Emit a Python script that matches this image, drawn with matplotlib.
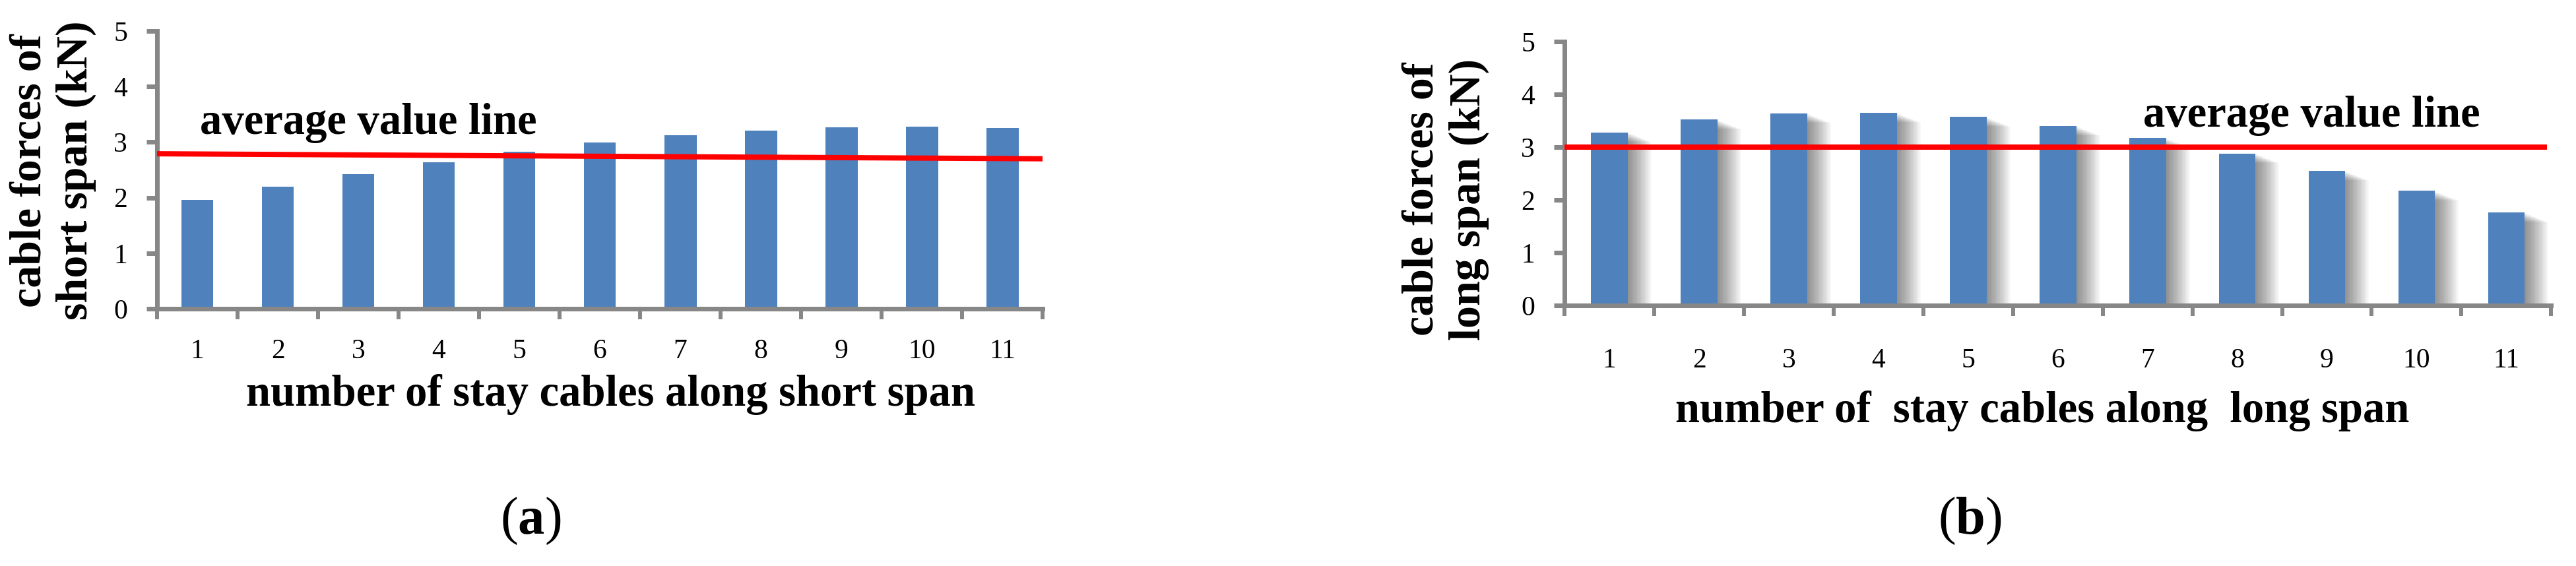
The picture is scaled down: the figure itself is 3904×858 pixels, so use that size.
import matplotlib
matplotlib.use("Agg")
import matplotlib.pyplot as plt
import matplotlib.patheffects as pe
import numpy as np

plt.rcParams['font.family'] = ['Liberation Serif', 'DejaVu Serif']
plt.rcParams['mathtext.fontset'] = 'custom'
plt.rcParams['mathtext.rm'] = 'Liberation Serif'
plt.rcParams['mathtext.bf'] = 'Liberation Serif:bold'

# data
cables = [1, 2, 3, 4, 5, 6, 7, 8, 9, 10, 11]
short_span = [1.96, 2.20, 2.42, 2.64, 2.83, 2.99, 3.12, 3.21, 3.27, 3.28, 3.25]
long_span = [3.28, 3.52, 3.64, 3.65, 3.57, 3.40, 3.17, 2.88, 2.55, 2.17, 1.76]
avg_short = [2.79, 2.70]   # average value line, start / end
avg_long = [3.0, 3.0]
yticks = [0, 1, 2, 3, 4, 5]

BLUE = '#4f81bd'
GRAY = '#878787'
DPI = 100

fig = plt.figure(figsize=(39.05, 8.58), dpi=DPI)
ax1 = fig.add_axes([0.06095, 0.4545, 0.3437, 0.4907])
ax2 = fig.add_axes([0.6072, 0.4604, 0.3829, 0.4662])


def px(p):
    return p * 72.0 / DPI


def style(ax, xpad):
    ax.set_xlim(0.5, 11.5)
    ax.set_ylim(0, 5)
    for s in ['top', 'right']:
        ax.spines[s].set_visible(False)
    for s in ['left', 'bottom']:
        ax.spines[s].set_color(GRAY)
        ax.spines[s].set_linewidth(px(7))
    ax.set_yticks(yticks)
    ax.set_xticks(np.arange(0.5, 12, 1), minor=False)
    ax.set_xticklabels([])
    ax.set_xticks(cables, minor=True)
    ax.set_xticklabels([str(c) for c in cables], minor=True)
    ax.tick_params(axis='x', which='major', length=px(16), width=px(6), color=GRAY)
    ax.tick_params(axis='x', which='minor', length=0, pad=xpad, labelsize=30)
    ax.tick_params(axis='y', length=px(16), width=px(7), color=GRAY,
                   pad=px(29), labelsize=30)


# (a) short span
ax1.bar(cables, short_span, width=0.40, color=BLUE, zorder=2)
ax1.plot([0.5, 11.5], avg_short, color='red', lw=px(8), zorder=3,
         solid_capstyle='butt')
ax1.text(1.03, 3.15, 'average value line', fontsize=48, fontweight='bold')
style(ax1, px(45))

# (b) long span, bars with soft shadow
shadow = [pe.SimplePatchShadow(offset=(px(d), -px(0.4 * d)), shadow_rgbFace='k',
                               alpha=0.028) for d in range(2, 38, 2)]
bars = ax2.bar(cables, long_span, width=0.41, color=BLUE, zorder=2)
for b in bars:
    b.set_path_effects(shadow + [pe.Normal()])
ax2.plot([0.5, 11.45], avg_long, color='red', lw=px(8), zorder=3,
         solid_capstyle='butt')
ax2.text(6.95, 3.39, 'average value line', fontsize=48, fontweight='bold')
style(ax2, px(65))

# axis titles
fig.text(0.0205, 0.699, 'cable forces of\nshort span (kN)', rotation=90,
         ha='center', va='center', multialignment='center',
         fontsize=49, fontweight='bold', linespacing=1.2)
fig.text(0.561, 0.648, 'cable forces of\nlong span (kN)', rotation=90,
         ha='center', va='center', multialignment='center',
         fontsize=49, fontweight='bold', linespacing=1.2)
fig.text(0.2369, 0.2832, 'number of stay cables along short span',
         ha='center', va='baseline', fontsize=48, fontweight='bold')
fig.text(0.7926, 0.2541, 'number of  stay cables along  long span',
         ha='center', va='baseline', fontsize=48, fontweight='bold')

fig.text(0.2059, 0.080, r'($\mathbf{a}$)', ha='center', va='center', fontsize=58)
fig.text(0.7644, 0.080, r'($\mathbf{b}$)', ha='center', va='center', fontsize=58)

fig.savefig('out.png', dpi=DPI, facecolor='white')
